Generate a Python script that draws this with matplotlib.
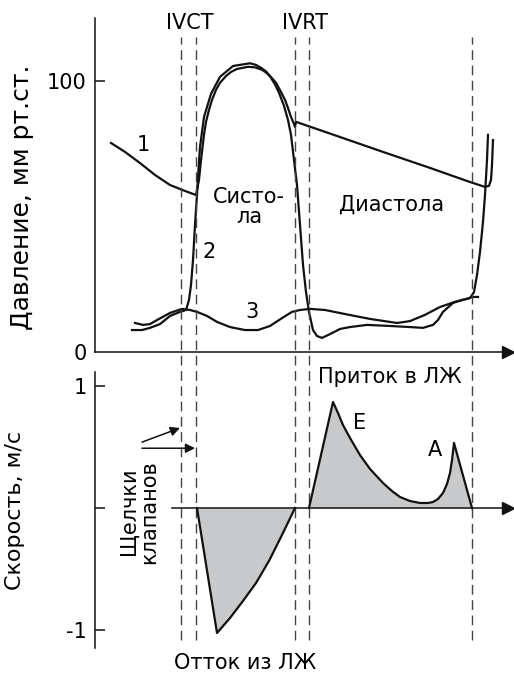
import numpy as np
import matplotlib
matplotlib.use('Agg')
import matplotlib.pyplot as plt

plt.rcParams['font.family'] = ['DejaVu Sans']

# time in ms, pressure in mm Hg, velocity in m/s
events = [172, 202, 400, 428, 754]

lv_t = [74, 94, 110, 130, 150, 170, 182, 188, 192, 196, 200, 204, 206, 210, 218, 232, 250, 276, 310,
        322, 334, 342, 350, 360, 368, 378, 386, 392, 398, 404, 410, 416, 422, 428, 436, 444, 454, 470,
        490, 510, 544, 590, 630, 656, 676, 686, 696, 716, 734, 750, 758, 764, 770, 776, 780, 784, 786]
lv_p = [8.1, 8.1, 8.9, 10.3, 13.3, 14.8, 15.5, 19.2, 24.7, 33.9, 46.9, 57.9, 64.6, 75.6, 86.7, 95.2, 101.5, 105.5, 106.5,
        105.9, 104.6, 103.5, 101.7, 98.7, 95.6, 90.8, 85.6, 80.1, 70.8, 61.6, 46.9, 32.1, 22.1, 14.8, 8.1, 5.9, 5.2, 6.6,
        8.5, 9.2, 10.0, 9.6, 9.2, 8.9, 10.0, 11.8, 14.8, 18.1, 19.2, 19.9, 22.1, 28.4, 36.9, 48.0, 57.9, 70.8, 80.1]

ao_t = [32, 60, 90, 120, 150, 180, 202, 208, 212, 218, 222, 228, 234, 242, 250, 262, 272, 284, 306,
        320, 334, 342, 350, 362, 372, 380, 386, 392, 398, 400, 402, 490, 576, 670, 750, 780, 788, 792, 794, 796]
ao_p = [77.1, 73.8, 69.7, 65.3, 61.6, 59.4, 57.9, 63.5, 70.8, 80.1, 84.9, 89.3, 93.0, 96.7, 99.3, 101.8, 103.3, 104.4, 105.2,
        105.0, 104.1, 103.1, 101.8, 99.3, 95.9, 93.0, 90.0, 86.7, 84.1, 83.0, 84.9, 79.3, 73.8, 67.9, 62.7, 60.9, 61.3, 63.5, 69.0, 78.2]

la_t = [80, 96, 110, 124, 150, 174, 190, 204, 224, 244, 270, 300, 326, 350, 374, 394, 410, 430,
        460, 500, 550, 604, 630, 660, 690, 720, 744, 754, 766]
la_p = [10.7, 10.0, 10.3, 11.8, 14.4, 15.9, 15.5, 14.8, 13.3, 11.1, 9.2, 8.1, 8.1, 9.6, 12.5, 14.8, 15.5, 15.9,
        15.5, 14.0, 12.2, 10.7, 11.4, 13.7, 16.6, 18.5, 19.6, 20.3, 20.3]

out_t = [204, 244, 270, 296, 322, 348, 374, 400]
out_v = [0, -1.025, -0.902, -0.762, -0.615, -0.434, -0.221, 0]

in_t = [428, 476, 486, 496, 510, 530, 550, 576, 594, 610, 630, 650, 666, 676, 686, 696, 704, 710, 714, 718, 754]
in_v = [0, 0.869, 0.779, 0.68, 0.574, 0.434, 0.32, 0.205, 0.139, 0.09, 0.057, 0.041, 0.041, 0.049, 0.074,
        0.123, 0.197, 0.287, 0.393, 0.533, 0]

ink = '#111111'
grey = '#c8c9cb'
fs = 15

fig = plt.figure(figsize=(5.14, 6.80), dpi=100)
ax1 = fig.add_axes([95/514, 1-352/680, 419/514, 334/680])
ax2 = fig.add_axes([95/514, 1-648/680, 419/514, 276/680])

for ax in (ax1, ax2):
    ax.set_xlim(0, 838)
    ax.patch.set_alpha(0)
    for s in ('top', 'right'):
        ax.spines[s].set_visible(False)
    ax.spines['left'].set_linewidth(1.1)
    ax.spines['left'].set_color(ink)
    ax.set_xticks([])
    ax.tick_params(axis='y', direction='in', length=7, width=1.1, color=ink, pad=6, labelsize=fs)

# top panel: pressures
ax1.set_ylim(0, 123.2)
ax1.spines['bottom'].set_bounds(0, 822)
ax1.spines['bottom'].set_linewidth(1.1)
ax1.spines['bottom'].set_color(ink)
ax1.plot([826], [0], marker='>', ms=8, color=ink, clip_on=False)
ax1.set_yticks([0, 100])
ax1.set_yticklabels(['0', '100'])
ax1.yaxis.get_major_ticks()[0].tick1line.set_visible(False)

ax1.plot(ao_t, ao_p, color=ink, lw=1.6, clip_on=False, solid_joinstyle='round')
ax1.plot(lv_t, lv_p, color=ink, lw=1.6, clip_on=False, solid_joinstyle='round')
ax1.plot(la_t, la_p, color=ink, lw=1.6, clip_on=False, solid_joinstyle='round')

ax1.vlines(events, -106.3, 116.2, colors='#444444', lw=1.0, linestyles=(0, (7, 4)), clip_on=False)

ax1.set_ylabel('Давление, мм рт.ст.', fontsize=18)
ax1.yaxis.set_label_coords(-0.145, 0.464)

ax1.text(190, 121.5, 'IVCT', fontsize=fs, ha='center', va='center')
ax1.text(420, 121.5, 'IVRT', fontsize=fs, ha='center', va='center')
ax1.text(96, 76.4, '1', fontsize=fs, ha='center', va='center')
ax1.text(228, 36.9, '2', fontsize=fs, ha='center', va='center')
ax1.text(314, 14.8, '3', fontsize=fs, ha='center', va='center')
ax1.text(308, 53.5, 'Систо-\nла', fontsize=fs, ha='center', va='center', linespacing=1.05)
ax1.text(594, 54.2, 'Диастола', fontsize=fs, ha='center', va='center')

# bottom panel: velocity
ax2.set_ylim(-1.148, 1.115)
ax2.spines['bottom'].set_visible(False)
ax2.set_yticks([-1, 0, 1])
ax2.set_yticklabels(['-1', '', '1'])
ax2.plot([154, 822], [0, 0], color=ink, lw=1.1, clip_on=False)
ax2.plot([826], [0], marker='>', ms=8, color=ink, clip_on=False)

ax2.fill_between(out_t, out_v, 0, color=grey, lw=0)
ax2.plot(out_t, out_v, color=ink, lw=1.6, solid_joinstyle='round')
ax2.fill_between(in_t, in_v, 0, color=grey, lw=0)
ax2.plot(in_t, in_v, color=ink, lw=1.6, solid_joinstyle='round')

ax2.set_ylabel('Скорость, м/с', fontsize=16)
ax2.yaxis.set_label_coords(-0.167, 0.5)

ax2.text(590, 1.074, 'Приток в ЛЖ', fontsize=fs, ha='center', va='center')
ax2.text(530, 0.697, 'E', fontsize=fs, ha='center', va='center')
ax2.text(680, 0.475, 'A', fontsize=fs, ha='center', va='center')
ax2.text(300, -1.27, 'Отток из ЛЖ', fontsize=fs, ha='center', va='center')
ax2.text(88, -0.03, 'Щелчки\nклапанов', fontsize=fs, rotation=90, ha='center', va='center',
         multialignment='center', linespacing=1.0)

ax2.annotate('', xy=(170, 0.656), xytext=(94, 0.54),
             arrowprops=dict(arrowstyle='-|>', color=ink, lw=1.1, mutation_scale=14, shrinkA=0, shrinkB=0))
ax2.annotate('', xy=(200, 0.49), xytext=(94, 0.49),
             arrowprops=dict(arrowstyle='-|>', color=ink, lw=1.1, mutation_scale=14, shrinkA=0, shrinkB=0))

fig.savefig('out.png', dpi=100)
